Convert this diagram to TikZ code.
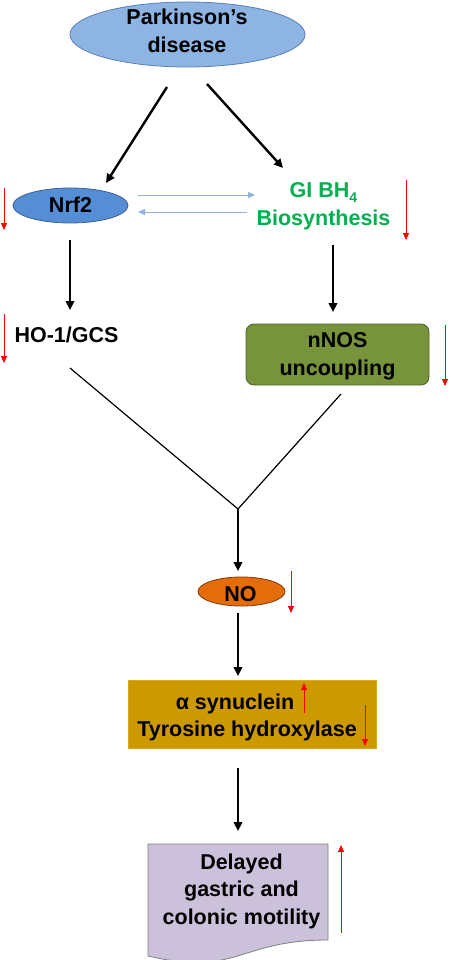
\documentclass[tikz,border=0pt]{standalone}
\usepackage{fontspec}
\setmainfont{Liberation Sans}
\usetikzlibrary{shapes.geometric,arrows.meta}
\definecolor{pdfill}{HTML}{8EB4E3}
\definecolor{pdline}{HTML}{5A7FB8}
\definecolor{nrffill}{HTML}{558ED5}
\definecolor{nrfline}{HTML}{3A5F96}
\definecolor{bhgreen}{HTML}{00B050}
\definecolor{nosfill}{HTML}{77933C}
\definecolor{nosline}{HTML}{4F6228}
\definecolor{nofill}{HTML}{E46C0A}
\definecolor{noline}{HTML}{7F3A05}
\definecolor{synfill}{HTML}{CC9900}
\definecolor{synline}{HTML}{D9AA20}
\definecolor{docfill}{HTML}{CCC1DA}
\definecolor{docline}{HTML}{7F7F7F}
\definecolor{lblue}{HTML}{8DB4E2}
\begin{document}
\begin{tikzpicture}[x=1pt,y=-1pt,
  txt/.style={font=\fontsize{21.5}{27.5}\selectfont\bfseries, align=center, inner sep=0pt},
  blk/.style={line width=2.4pt, -{Triangle[length=9pt,width=8.5pt]}},
  thinln/.style={line width=1.2pt},
  bluearr/.style={draw=lblue, line width=0.9pt, -{Triangle[length=7pt,width=6pt]}},
  redarr/.style={draw=red, line width=0.8pt, -{Triangle[length=7pt,width=6pt]}},
]
\useasboundingbox (0,0) rectangle (450,960);

% nodes
\node[ellipse, draw=pdline, fill=pdfill, line width=0.8pt, minimum width=235pt, minimum height=65pt, inner sep=0pt] (pd) at (187.5,34.5) {};
\node[txt] (pdt) at (187,31) {Parkinson’s\\disease};

\node[ellipse, draw=nrfline, fill=nrffill, line width=0.8pt, minimum width=115pt, minimum height=35pt, inner sep=0pt] (nrf) at (70.5,205.5) {};
\node[txt] (nrft) at (70.5,205) {Nrf2};

\node[txt, text=bhgreen] (bh) at (323.5,206) {GI BH\raisebox{-0.22em}{\fontsize{14}{14}\selectfont 4}\\Biosynthesis};

\node[txt] (ho) at (66.5,335) {HO-1/GCS};

\node[draw=nosline, fill=nosfill, line width=0.8pt, rounded corners=8pt, minimum width=183pt, minimum height=61pt, inner sep=0pt] (nos) at (337.5,354.5) {};
\node[txt] (nost) at (337.5,356.5) {nNOS\\uncoupling};

\node[ellipse, draw=noline, fill=nofill, line width=0.8pt, minimum width=87pt, minimum height=29pt, inner sep=0pt] (no) at (241.5,591.5) {};
\node[txt] (not) at (240.5,594) {NO};

\node[draw=synline, fill=synfill, line width=0.8pt, minimum width=248pt, minimum height=68pt, inner sep=0pt] (syn) at (252,714) {};
\node[txt] (synt) at (247,717.5) {α synuclein\hspace*{24pt}\\Tyrosine hydroxylase};

\draw[draw=docline, fill=docfill, line width=0.8pt] (148,844) -- (328,844) -- (328,940)
  .. controls (238,940) and (238,977) .. (148,956) -- cycle;
\node[txt] (doct) at (241.5,891) {Delayed\\gastric and\\colonic motility};

% coordinates for connectors
\coordinate (a1s) at (167,87);  \coordinate (a1e) at (106,183);
\coordinate (a2s) at (207,84);  \coordinate (a2e) at (283,168);
\coordinate (b1s) at (138,195); \coordinate (b1e) at (255,195);
\coordinate (b2s) at (247,212); \coordinate (b2e) at (138,212);
\coordinate (a3s) at (70,240);  \coordinate (a3e) at (70,310);
\coordinate (a4s) at (333,245); \coordinate (a4e) at (333,312);
\coordinate (yl) at (70,368);   \coordinate (yr) at (341,394);
\coordinate (yj) at (238,509);  \coordinate (a5e) at (238,571);
\coordinate (a6s) at (238,613); \coordinate (a6e) at (238,676);
\coordinate (a7s) at (238,768); \coordinate (a7e) at (238,831);

\draw[blk] (a1s) -- (a1e);
\draw[blk] (a2s) -- (a2e);
\draw[bluearr] (b1s) -- (b1e);
\draw[bluearr] (b2s) -- (b2e);
\draw[blk] (a3s) -- (a3e);
\draw[blk] (a4s) -- (a4e);
\draw[thinln] (yl) -- (yj) -- (yr);
\draw[blk] (yj) -- (a5e);
\draw[blk] (a6s) -- (a6e);
\draw[blk] (a7s) -- (a7e);

% red indicator arrows
\draw[redarr] (4,188) -- (4,230);
\draw[redarr] (406,180) -- (406,240);
\draw[redarr] (4,314) -- (4,363);
\draw[redarr] (445,325) -- (445,386);
\draw[redarr] (291,571) -- (291,613);
\draw[redarr] (304,713) -- (304,683);
\draw[redarr] (365,705) -- (365,746);
\draw[redarr] (341,933) -- (341,845);
\end{tikzpicture}
\end{document}
